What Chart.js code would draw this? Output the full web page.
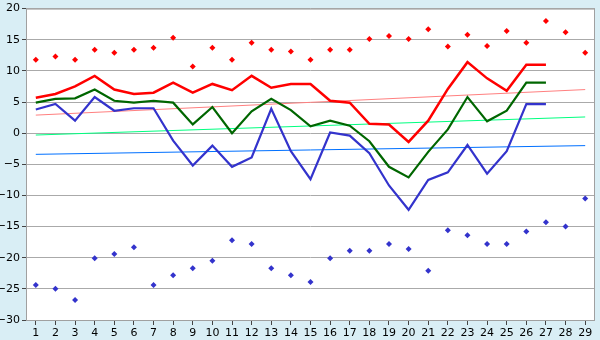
<!DOCTYPE html>
<html>
<head>
<meta charset="utf-8">
<script src="https://cdn.jsdelivr.net/npm/chart.js@4/dist/chart.umd.min.js"></script>
<style>
    html, body { margin: 0; padding: 0; background: #d9eef5; }
    #wrap { width: 600px; height: 340px; }
</style>
</head>
<body>
<div id="wrap"><canvas id="tempChart"></canvas></div>
<script>
// Ngày trong tháng
const days = ['1','2','3','4','5','6','7','8','9','10','11','12','13','14','15',
    '16','17','18','19','20','21','22','23','24','25','26','27','28','29'];

// Nhiệt độ cao nhất / trung bình / thấp nhất (đến ngày 27)
const maxTemp = [5.7, 6.3, 7.5, 9.2, 7.0, 6.3, 6.5, 8.1, 6.5, 7.9, 6.9, 9.2, 7.3, 7.9, 7.9,
    5.2, 4.9, 1.5, 1.4, -1.4, 2.0, 7.1, 11.4, 8.8, 6.8, 11.0, 11.0, null, null];
const meanTemp = [4.9, 5.5, 5.6, 7.0, 5.2, 4.9, 5.2, 4.9, 1.4, 4.2, 0.0, 3.5, 5.5, 3.7, 1.1,
    2.0, 1.2, -1.3, -5.4, -7.1, -3.0, 0.6, 5.8, 1.9, 3.6, 8.1, 8.1, null, null];
const minTemp = [3.8, 4.7, 2.0, 5.8, 3.6, 4.0, 4.0, -1.2, -5.2, -2.0, -5.4, -3.9, 3.9, -2.9, -7.4,
    0.1, -0.4, -3.2, -8.4, -12.3, -7.5, -6.3, -1.9, -6.5, -2.9, 4.65, 4.65, null, null];

// Kỷ lục cao / thấp
const recordHigh = [11.8, 12.3, 11.8, 13.4, 12.9, 13.4, 13.7, 15.3, 10.7, 13.7, 11.8, 14.5, 13.4, 13.1, 11.8,
    13.4, 13.4, 15.1, 15.6, 15.1, 16.7, 13.9, 15.8, 14.0, 16.4, 14.5, 18.0, 16.2, 12.9];
const recordLow = [-24.4, -25.0, -26.8, -20.1, -19.4, -18.3, -24.4, -22.8, -21.7, -20.5, -17.2, -17.8, -21.7, -22.8, -23.9,
    -20.1, -18.9, -18.9, -17.8, -18.6, -22.1, -15.6, -16.4, -17.8, -17.8, -15.8, -14.3, -15.0, -10.5];

// Đường xu hướng: giá trị ở ngày đầu và ngày cuối
const trendMax = [2.9, 7.0];
const trendMean = [-0.3, 2.6];
const trendMin = [-3.4, -2.0];

const yTicks = { min: -30, max: 20, step: 5 };

Chart.defaults.font.family = '"DejaVu Sans", Verdana, sans-serif';
Chart.defaults.font.size = 11;
Chart.defaults.color = '#000';

/**
 * Nền: ngoài vùng vẽ xanh nhạt, trong vùng vẽ trắng, viền xám
 */
const plotBackground = {
    id: 'plotBackground',
    beforeDraw(chart) {
        const { ctx, chartArea: a } = chart;
        ctx.save();
        ctx.fillStyle = '#d9eef5';
        ctx.fillRect(0, 0, chart.width, chart.height);
        ctx.fillStyle = '#ffffff';
        ctx.fillRect(a.left, a.top, a.right - a.left, a.bottom - a.top);
        ctx.restore();
    },
    afterDatasetsDraw(chart) {
        const { ctx, chartArea: a } = chart;
        ctx.save();
        ctx.strokeStyle = '#a0a0a0';
        ctx.lineWidth = 1;
        ctx.strokeRect(a.left + 0.5, a.top + 0.5, a.right - a.left - 1, a.bottom - a.top);
        ctx.restore();
    }
};

function trend(values, color) {
    return {
        data: [
            { x: days[0], y: values[0] },
            { x: days[days.length - 1], y: values[1] }
        ],
        borderColor: color,
        borderWidth: 1,
        pointRadius: 0,
        fill: false,
        order: 3
    };
}

function line(values, color, width) {
    return {
        data: values,
        borderColor: color,
        borderWidth: width,
        pointRadius: 0,
        tension: 0,
        fill: false,
        order: 1
    };
}

function record(values, color) {
    return {
        data: values,
        showLine: false,
        pointStyle: 'rectRot',
        pointRadius: 3,
        pointBackgroundColor: color,
        pointBorderColor: color,
        pointBorderWidth: 0,
        order: 2
    };
}

const ctx = document.getElementById('tempChart').getContext('2d');

new Chart(ctx, {
    type: 'line',
    data: {
        labels: days,
        datasets: [
            trend(trendMax, '#ff8080'),
            trend(trendMean, '#00ff80'),
            trend(trendMin, '#0070ff'),
            record(recordHigh, '#ff0000'),
            record(recordLow, '#3333cc'),
            line(maxTemp, '#ff0000', 2.5),
            line(meanTemp, '#006600', 2.2),
            line(minTemp, '#3333cc', 2.2)
        ]
    },
    options: {
        responsive: true,
        maintainAspectRatio: false,
        animation: false,
        layout: { padding: { top: 6, right: 5, left: 0, bottom: 0 } },
        scales: {
            x: {
                type: 'category',
                offset: true,
                grid: {
                    drawOnChartArea: false,
                    drawTicks: true,
                    tickLength: 5,
                    tickColor: '#444'
                },
                border: { display: false },
                ticks: { padding: 2, maxRotation: 0, autoSkip: false },
                afterFit(scale) { scale.height = 20; }
            },
            y: {
                min: yTicks.min,
                max: yTicks.max,
                grid: {
                    color: '#aaaaaa',
                    tickLength: 4,
                    tickColor: '#444'
                },
                border: { display: false },
                ticks: {
                    stepSize: yTicks.step,
                    padding: 2,
                    callback: function(value) {
                        return value < 0 ? '\u2212' + Math.abs(value) : String(value);
                    }
                },
                afterFit(scale) { scale.width = 26; }
            }
        },
        plugins: {
            legend: { display: false },
            tooltip: { enabled: false }
        }
    },
    plugins: [plotBackground]
});
</script>
</body>
</html>
